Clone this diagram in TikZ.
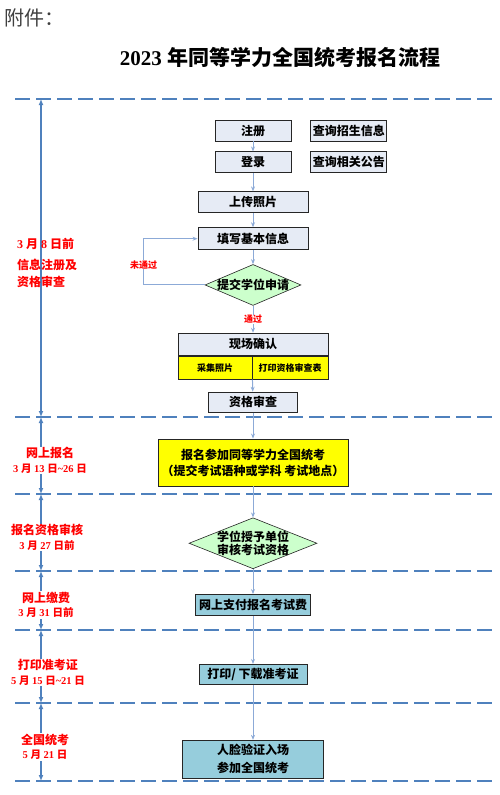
\documentclass[tikz,border=0pt]{standalone}
\usepackage{fontspec}
\setmainfont{Liberation Serif}
\newfontfamily\cjk{Noto Sans CJK SC}
\newcommand{\zh}[1]{{\cjk #1}}
\newcommand{\datefont}{\fontsize{10.5}{13}\selectfont}
\definecolor{linkblue}{RGB}{140,170,215}
\definecolor{bandblue}{RGB}{79,129,189}
\definecolor{boxgray}{RGB}{230,235,245}
\definecolor{stepyellow}{RGB}{255,255,0}
\definecolor{checkgreen}{RGB}{204,255,204}
\definecolor{paycyan}{RGB}{150,205,220}
\usetikzlibrary{arrows.meta,positioning,shapes.geometric}

\begin{document}
\begin{tikzpicture}[
  x=1pt, y=-1pt,
  box/.style={rectangle, draw=black!85, line width=0.9pt, fill=boxgray, minimum height=21pt, inner sep=1pt, font=\cjk\bfseries\fontsize{12}{14}\selectfont, align=center},
  subbox/.style={box, fill=stepyellow, minimum height=23pt, font=\cjk\bfseries\fontsize{9}{11}\selectfont},
  decision/.style={diamond, draw=black!85, line width=0.6pt, fill=checkgreen, font=\cjk\bfseries\fontsize{12}{13}\selectfont, align=center},
  flow/.style={-{Stealth[length=5pt,width=4pt]}, draw=linkblue, line width=1pt},
  span/.style={{Latex[length=6pt,width=5pt]}-{Latex[length=6pt,width=5pt]}, draw=bandblue, line width=1.2pt},
  band/.style={draw=bandblue, line width=2.8pt, dash pattern=on 15pt off 6pt},
  period/.style={text=red, font=\bfseries\fontsize{12}{14.5}\selectfont, align=center, inner sep=1pt},
  hint/.style={text=red, font=\cjk\bfseries\fontsize{9}{11}\selectfont, fill=white, inner sep=0.5pt},
]
\useasboundingbox (0,0) rectangle (500,795);

% Heading
\node[anchor=west, text=black!75, font=\cjk\fontsize{20}{24}\selectfont, inner sep=0pt] (annex) at (4,18) {附件：};
\node[font=\bfseries\fontsize{21}{25}\selectfont] (title) at (280,57) {2023 \zh{年同等学力全国统考报名流程}};

% Time bands
\foreach \y [count=\i] in {99,417,494,571,630,703,781} {
  \draw[band] (15,\y) -- (493,\y);
  \coordinate (t\i) at (41,\y);
}
\foreach \a/\b in {1/2,2/3,3/4,4/5,5/6,6/7}
  \draw[span] (t\a) -- (t\b);

% Period labels
\node[period, align=left, anchor=west] (stage1) at (16,263) {3 \zh{月} 8 \zh{日前}\\[6.5pt]\zh{信息注册及}\\[2.5pt]\zh{资格审查}};
\node[period, fill=white] (stage2) at (50,460.5) {\zh{网上报名}\\{\datefont 3 \zh{月} 13 \zh{日}\textasciitilde 26 \zh{日}}};
\node[period, fill=white] (stage3) at (47,537.5) {\zh{报名资格审核}\\{\datefont 3 \zh{月} 27 \zh{日前}}};
\node[period, fill=white] (stage4) at (46,605) {\zh{网上缴费}\\{\datefont 3 \zh{月} 31 \zh{日前}}};
\node[period, fill=white] (stage5) at (48,672.5) {\zh{打印准考证}\\{\datefont 5 \zh{月} 15 \zh{日}\textasciitilde 21 \zh{日}}};
\node[period, fill=white] (stage6) at (45,747) {\zh{全国统考}\\{\datefont 5 \zh{月} 21 \zh{日}}};

% Registration
\node[box, minimum width=76pt] (reg) at (253,130.5) {注册};
\node[box, minimum width=76pt, below=10pt of reg] (login) {登录};
\node[box, minimum width=76pt, right=19pt of reg] (news) {查询招生信息};
\node[box, minimum width=76pt, right=19pt of login] (notice) {查询相关公告};
\node[box, minimum width=110pt, below=18pt of login] (upload) {上传照片};
\node[box, minimum width=110pt, minimum height=22pt, below=14pt of upload] (fillin) {填写基本信息};
\node[decision, minimum width=96pt, minimum height=41pt, shape aspect=2.34, inner sep=-0.5pt, below=14pt of fillin] (submit) {提交学位申请};

% On-site confirmation
\node[box, minimum width=150pt, minimum height=22pt, below=27pt of submit] (confirm) {现场确认};
\node[subbox, minimum width=74pt, anchor=north west] (photo) at (confirm.south west) {采集照片};
\node[subbox, minimum width=76pt, anchor=north east] (form) at (confirm.south east) {打印资格审查表};
\node[box, minimum width=89pt, minimum height=20pt, below=36pt of confirm] (review) {资格审查};

% Online application and exam
\node[box, fill=stepyellow, minimum width=190pt, minimum height=47pt, below=26pt of review] (apply) {报名参加同等学力全国统考\\[2pt]（提交考试语种或学科\ 考试地点）};
\node[decision, minimum width=128pt, minimum height=51pt, shape aspect=2.51, inner sep=-1.1pt, below=31pt of apply] (check) {学位授予单位\\审核考试资格};
\node[box, fill=paycyan, minimum width=115pt, below=25pt of check] (pay) {网上支付报名考试费};
\node[box, fill=paycyan, minimum width=108pt, minimum height=20pt, below=48pt of pay] (ticket) {打印/ 下载准考证};
\node[box, fill=paycyan, minimum width=141pt, minimum height=38pt, below=55pt of ticket] (exam) {人脸验证入场\\[4pt]参加全国统考};

% Connectors
\draw[flow] (reg) -- (login);
\draw[flow] (login) -- (upload);
\draw[flow] (upload) -- (fillin);
\draw[flow] (fillin) -- (submit);
\draw[flow] (submit) -- node[hint] {通过} (confirm);
\draw[flow] (submit.west) -- ++(-61pt,0) |- node[hint, pos=0.22] {未通过} (fillin.west);
\draw[flow] (photo.south east) -- (review);
\draw[flow] (review) -- (apply);
\draw[flow] (apply) -- (check);
\draw[flow] (check) -- (pay);
\draw[flow] (pay) -- (ticket);
\draw[flow] (ticket) -- (exam);

\end{tikzpicture}
\end{document}
